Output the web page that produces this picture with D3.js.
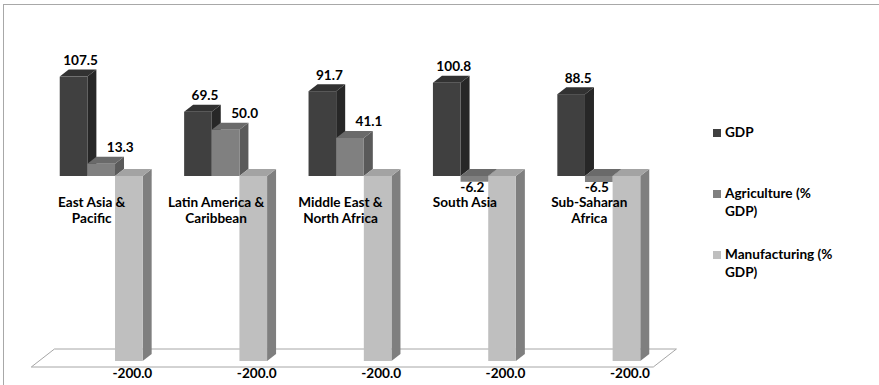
<!DOCTYPE html>
<html>
<head>
<meta charset="utf-8">
<script src="https://cdn.jsdelivr.net/npm/d3@7/dist/d3.min.js"></script>
<style>
  html, body { margin: 0; padding: 0; background: #fff; }
  svg { display: block; font-family: Lato, "Open Sans", sans-serif; font-weight: 700; }
</style>
</head>
<body>
<script>
// Regional indicators: GDP and sector shares, clustered 3D columns
const categories = ["East Asia & Pacific", "Latin America & Caribbean", "Middle East & North Africa", "South Asia", "Sub-Saharan Africa"];
const categoryLines = [["East Asia &", "Pacific"], ["Latin America &", "Caribbean"], ["Middle East &", "North Africa"], ["South Asia"], ["Sub-Saharan", "Africa"]];
const series = ["GDP", "Agriculture (% GDP)", "Manufacturing (% GDP)"];
const legendLines = [["GDP"], ["Agriculture (%", "GDP)"], ["Manufacturing (%", "GDP)"]];
const gdp = [107.5, 69.5, 91.7, 100.8, 88.5];
const agriculture = [13.3, 50.0, 41.1, -6.2, -6.5];
const manufacturing = [-200.0, -200.0, -200.0, -200.0, -200.0];
const valueDomain = [-200, 150];

const seriesValues = [gdp, agriculture, manufacturing];
const W = 879, H = 385;
const FS = 13.6;

// face colours per series: front, top, side
const faces = [
  { front: "#404040", top: "#323232", side: "#272727" },
  { front: "#808080", top: "#6a6a6a", side: "#5a5a5a" },
  { front: "#bfbfbf", top: "#a3a3a3", side: "#7f7f7f" }
];

const svg = d3.select("body").append("svg").attr("width", W).attr("height", H);

// chart area border
svg.append("rect")
  .attr("x", 3.5).attr("y", 4.5).attr("width", W + 10).attr("height", H + 10)
  .attr("fill", "none").attr("stroke", "#a8a8a8").attr("stroke-width", 1);

const x0 = d3.scaleBand().domain(categories).range([39, 661]).paddingInner(1 / 3).paddingOuter(1 / 6);
const x1 = d3.scaleBand().domain(series).range([0, x0.bandwidth()]);
const y = d3.scaleLinear().domain(valueDomain).range([361, 37.25]);

// oblique projection of the depth axis
const DX = 9, DY = 7, k = DX / DY;

// floor at the bottom of the value axis
const fy = y(valueDomain[0]);
const [xL, xR] = x0.range();
const floorPts = [
  [xL - 6 * k, fy + 6], [xR - 6 * k, fy + 6],
  [xR + 12 * k, fy - 12], [xL + 12 * k, fy - 12]
];
svg.append("polygon")
  .attr("points", floorPts.map(p => p.join(",")).join(" "))
  .attr("fill", "#fff").attr("stroke", "#a6a6a6").attr("stroke-width", 1);
const floorFrontY = fy + 6, floorBackY = fy - 12;

const bars = [];
categories.forEach((c, i) => {
  series.forEach((s, j) => {
    bars.push({ c, i, s, j, v: seriesValues[j][i] });
  });
});

const g = svg.append("g");
bars.forEach(d => {
  const x = x0(d.c) + x1(d.s);
  const w = x1.bandwidth();
  const yT = y(Math.max(d.v, 0));
  const yB = y(Math.min(d.v, 0));
  const f = faces[d.j];
  g.append("polygon")
    .attr("points", [[x + w, yT], [x + w + DX, yT - DY], [x + w + DX, yB - DY], [x + w, yB]].map(p => p.join(",")).join(" "))
    .attr("fill", f.side);
  g.append("polygon")
    .attr("points", [[x, yT], [x + w, yT], [x + w + DX, yT - DY], [x + DX, yT - DY]].map(p => p.join(",")).join(" "))
    .attr("fill", f.top);
  g.append("rect")
    .attr("x", x).attr("y", yT).attr("width", w).attr("height", yB - yT)
    .attr("fill", f.front);
});

// value labels; negative labels that would sit on the floor drop below it
const fmt = v => d3.format(".1f")(v).replace("\u2212", "-");
const posShift = [7, 19, 4];
const negShift = [0, -2, 3.5];
const labelY = d => {
  if (d.v >= 0) return y(d.v) - 11.5;
  const yy = y(d.v) + 10;
  return yy > floorBackY ? floorFrontY + 11 : yy;
};
svg.append("g").selectAll("text").data(bars).join("text")
  .attr("x", d => x0(d.c) + x1(d.s) + x1.bandwidth() / 2 + (d.v >= 0 ? posShift[d.j] : negShift[d.j]))
  .attr("y", labelY)
  .attr("text-anchor", "middle")
  .attr("font-size", FS)
  .attr("fill", "#000")
  .text(d => fmt(d.v));

// category labels
const catG = svg.append("g");
categories.forEach((c, i) => {
  const cx = x0(c) + x0.bandwidth() / 2 - 9.5;
  const t = catG.append("text")
    .attr("x", cx)
    .attr("y", y(0) + 31)
    .attr("text-anchor", "middle")
    .attr("font-size", FS)
    .attr("fill", "#000");
  categoryLines[i].forEach((line, li) => {
    t.append("tspan").attr("x", cx).attr("dy", li === 0 ? 0 : 16).text(line);
  });
});

// legend
const legendY = [137, 198, 259];
const leg = svg.append("g");
series.forEach((s, j) => {
  leg.append("rect")
    .attr("x", 713).attr("y", legendY[j] - 8).attr("width", 8).attr("height", 8)
    .attr("fill", faces[j].front);
  const t = leg.append("text").attr("x", 725).attr("y", legendY[j])
    .attr("font-size", FS).attr("fill", "#000");
  legendLines[j].forEach((line, li) => {
    t.append("tspan").attr("x", 725).attr("dy", li === 0 ? 0 : 18).text(line);
  });
});
</script>
</body>
</html>
